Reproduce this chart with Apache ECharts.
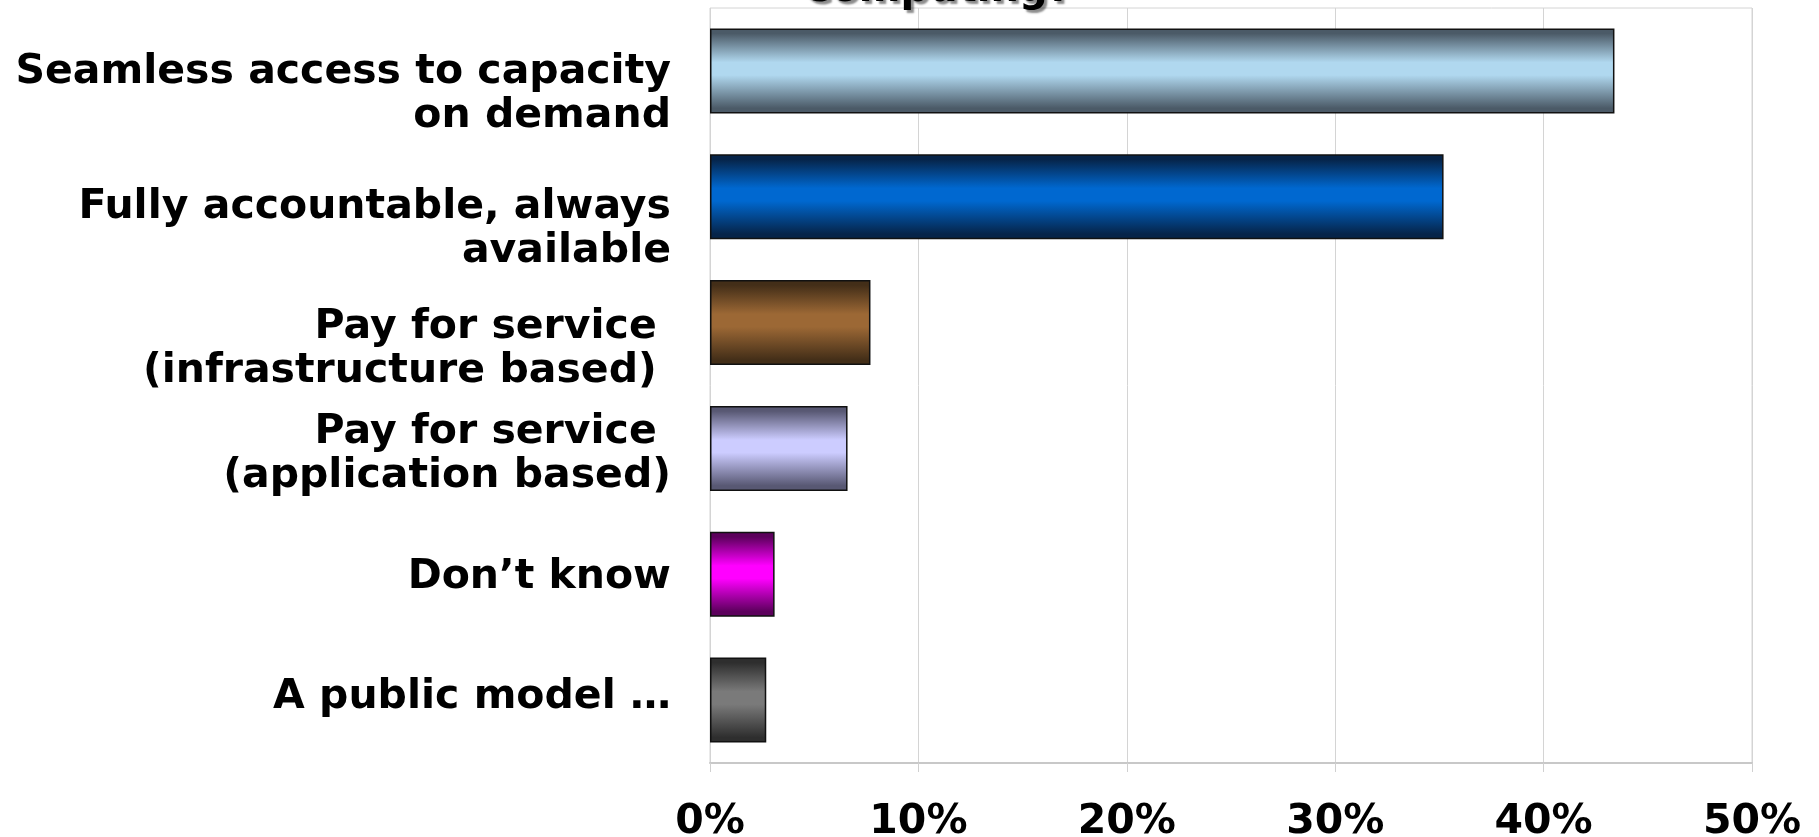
<!DOCTYPE html>
<html>
<head>
<meta charset="utf-8">
<script src="https://cdn.jsdelivr.net/npm/echarts@6/dist/echarts.min.js"></script>
<style>
  html, body { margin: 0; padding: 0; background: #ffffff; }
  #chart { width: 1819px; height: 837px; }
</style>
</head>
<body>
<div id="chart"></div>
<script>
// Survey answers, top to bottom
const categories = [
  'Seamless access to capacity\non demand',
  'Fully accountable, always\navailable',
  'Pay for service \n(infrastructure based) ',
  'Pay for service \n(application based)',
  'Don’t know',
  'A public model …'
];
// Share of respondents (%)
const shares = [43.4, 35.2, 7.7, 6.6, 3.1, 2.7];
// Percentage axis
const axisMin = 0;
const axisMax = 50;
const axisStep = 10;

const titleText = 'Computing?';

// Cylinder-like shading for each bar: [edge colour, centre colour]
const barShades = [
  ['#4b5a67', '#b0d8ef'],
  ['#062449', '#0068d0'],
  ['#432e18', '#9c6835'],
  ['#585873', '#ccccff'],
  ['#5c005c', '#ff00ff'],
  ['#2e2e2e', '#7a7a7a']
];

// Vertical shift (px) of each category label relative to its bar
const labelShift = [23, 33, 27, 6, 3, -3];

const FONT = '"DejaVu Sans", Verdana, sans-serif';

function shade(edge, mid) {
  return new echarts.graphic.LinearGradient(0, 0, 0, 1, [
    { offset: 0, color: edge },
    { offset: 0.06, color: edge },
    { offset: 0.4, color: mid },
    { offset: 0.55, color: mid },
    { offset: 0.94, color: edge },
    { offset: 1, color: edge }
  ]);
}

const rich = {
  t: { fontSize: 41, fontWeight: 'bold', fontFamily: FONT, color: '#000', lineHeight: 44, align: 'right' }
};
labelShift.forEach(function (d, i) {
  rich['g' + i] = { fontSize: 1, lineHeight: Math.max(1, Math.abs(d) * 2) };
});

const chart = echarts.init(document.getElementById('chart'), null, { renderer: 'canvas' });

chart.setOption({
  backgroundColor: '#ffffff',
  animation: false,
  graphic: [{
    type: 'text',
    left: 802,
    top: -29,
    style: {
      text: titleText,
      font: 'bold 40px ' + FONT,
      fill: '#000',
      textShadowColor: 'rgba(0,0,0,0.45)',
      textShadowOffsetX: 3,
      textShadowOffsetY: 3,
      textShadowBlur: 2
    }
  }],
  grid: {
    left: 710,
    right: 67,
    top: 8,
    bottom: 74,
    outerBoundsMode: 'none',
    containLabel: false,
    show: true,
    borderColor: '#d4d4d4',
    borderWidth: 1
  },
  xAxis: {
    type: 'value',
    min: axisMin,
    max: axisMax,
    interval: axisStep,
    axisLine: { show: true, lineStyle: { color: '#c8c8c8', width: 2 } },
    axisTick: { show: true, length: 9, lineStyle: { color: '#d0d0d0' } },
    splitLine: { show: true, lineStyle: { color: '#d4d4d4', width: 1 } },
    axisLabel: {
      margin: 39,
      formatter: '{value}%',
      fontSize: 41,
      fontWeight: 'bold',
      fontFamily: FONT,
      color: '#000'
    }
  },
  yAxis: {
    type: 'category',
    data: categories,
    inverse: true,
    axisLine: { show: false },
    axisTick: { show: false },
    splitLine: { show: false },
    axisLabel: {
      margin: 39,
      interval: 0,
      align: 'right',
      formatter: function (value, index) {
        const lines = value.split('\n').map(function (l) { return '{t|' + l + '}'; });
        const d = labelShift[index];
        if (d > 0) lines.unshift('{g' + index + '| }');
        else if (d < 0) lines.push('{g' + index + '| }');
        return lines.join('\n');
      },
      rich: rich
    }
  },
  series: [{
    type: 'bar',
    barCategoryGap: '32.5%',
    data: shares.map(function (v, i) {
      return {
        value: v,
        itemStyle: {
          color: shade(barShades[i][0], barShades[i][1]),
          borderColor: '#111',
          borderWidth: 1.5
        }
      };
    }),
    label: { show: false }
  }]
});
</script>
</body>
</html>
